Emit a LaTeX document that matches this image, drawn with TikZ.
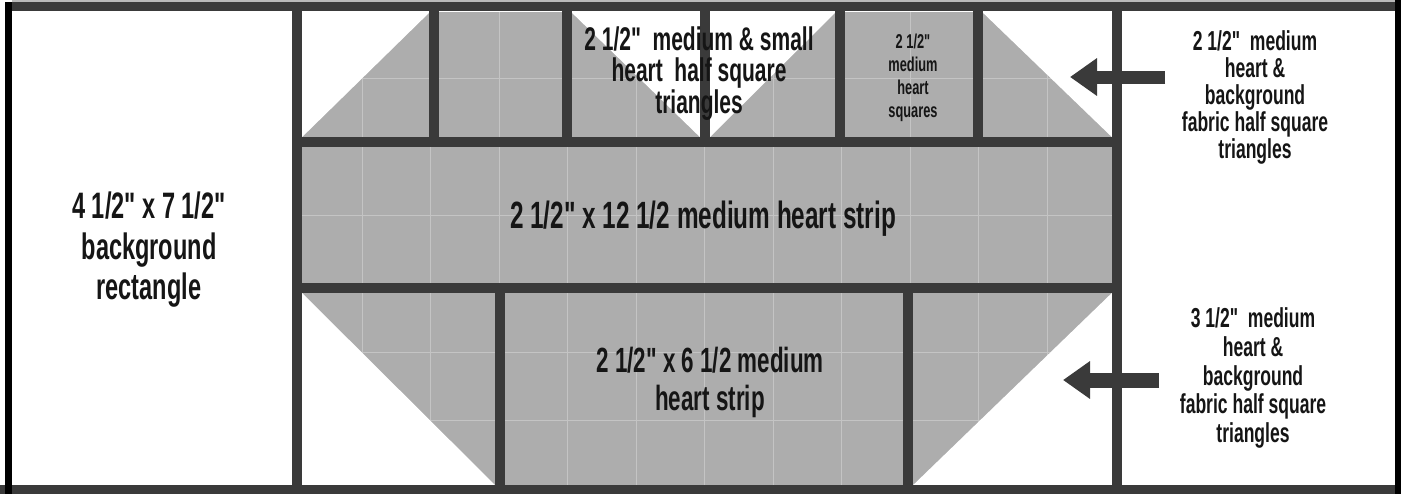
\documentclass[tikz,border=0pt]{standalone}
\usepackage{fontspec}
\newfontfamily\osw{Liberation Sans}[FakeStretch=0.64]
\usetikzlibrary{arrows.meta}
\definecolor{lineC}{HTML}{3A3A3A}
\definecolor{fillC}{HTML}{ADADAD}
\definecolor{gridC}{HTML}{C4C4C4}
\definecolor{txtC}{HTML}{151515}
\tikzset{
  seam/.style={lineC, line width=5pt},
  faint/.style={gridC, line width=0.5pt},
  label/.style={inner sep=0pt, align=center, text=txtC},
  pointer/.style={lineC, line width=#1, -{Triangle[length=13.5pt, width=18pt]}},
}
\begin{document}
\begin{tikzpicture}[x=0.5pt,y=-0.5pt]
\useasboundingbox (0,0) rectangle (1401,494);
\fill[white] (0,0) rectangle (1401,494);
% heart fabric
\fill[fillC] (297,12) rectangle (1117,490);
\foreach \k in {0,...,11} \draw[faint] ({362+68.5*\k},12) -- ({362+68.5*\k},490);
\foreach \k in {0,...,5} \draw[faint] (297,{78+68.5*\k}) -- (1117,{78+68.5*\k});
% background triangles
\fill[white] (297,8) -- (434,8) -- (297,142) -- cycle;
\fill[white] (567,8) -- (705,8) -- (705,142) -- cycle;
\fill[white] (705,8) -- (840,8) -- (705,142) -- cycle;
\fill[white] (978,8) -- (1117,8) -- (1117,142) -- cycle;
\fill[white] (297,288) -- (297,490) -- (500,490) -- cycle;
\fill[white] (1117,288) -- (1117,490) -- (908,490) -- cycle;
% seams
\draw[seam] (297,8) -- (297,490);
\draw[seam] (1117,8) -- (1117,490);
\foreach \x in {434,567,705,840,978} \draw[seam] (\x,8) -- (\x,142);
\draw[seam] (297,142) -- (1117,142);
\draw[seam] (297,288) -- (1117,288);
\draw[seam] (500,288) -- (500,490);
\draw[seam] (908,288) -- (908,490);
% outer frame
\fill[gray!55] (12,0) rectangle (1395,2);
\fill[lineC] (12,2) rectangle (1395,11);
\fill[lineC] (0,485) rectangle (1401,494);
\fill[black] (5,2) rectangle (12,494);
\fill[black] (1395,0) rectangle (1401,494);
% texts
\node[label, font=\osw\bfseries\fontsize{18.4}{20.25}\selectfont] (bgrect) at (149,250)
  {4 1/2" x 7 1/2"\\background\\rectangle};
\node[label, font=\osw\bfseries\fontsize{16.4}{15.2}\selectfont] (hst) at (699,74)
  {2 1/2"\ \ medium \& small\\heart\ \ half square\\triangles};
\node[label, font=\osw\bfseries\fontsize{10}{11.5}\selectfont] (sq) at (913,77.5)
  {2 1/2"\\medium\\heart\\squares};
\node[label, font=\osw\bfseries\fontsize{13.7}{13.6}\selectfont] (rtop) at (1255,97.5)
  {2 1/2"\ \ medium\\heart \&\\background\\fabric half square\\triangles};
\node[label, font=\osw\bfseries\fontsize{13.7}{14.3}\selectfont] (rbot) at (1253,378)
  {3 1/2"\ \ medium\\heart \&\\background\\fabric half square\\triangles};
\node[label, anchor=base, font=\osw\bfseries\fontsize{19}{21}\selectfont] (strip) at (703,228)
  {2 1/2" x 12 1/2 medium heart strip};
\node[label, font=\osw\bfseries\fontsize{17.5}{19}\selectfont] (bstrip) at (710,382.5)
  {2 1/2" x 6 1/2 medium\\heart strip};
% arrows
\coordinate (a1s) at (1165,77);
\coordinate (a1e) at (1070,77);
\coordinate (a2s) at (1159,380);
\coordinate (a2e) at (1063,380);
\draw[pointer=6.5pt] (a1s) -- (a1e);
\draw[pointer=7.5pt] (a2s) -- (a2e);
\end{tikzpicture}
\end{document}
